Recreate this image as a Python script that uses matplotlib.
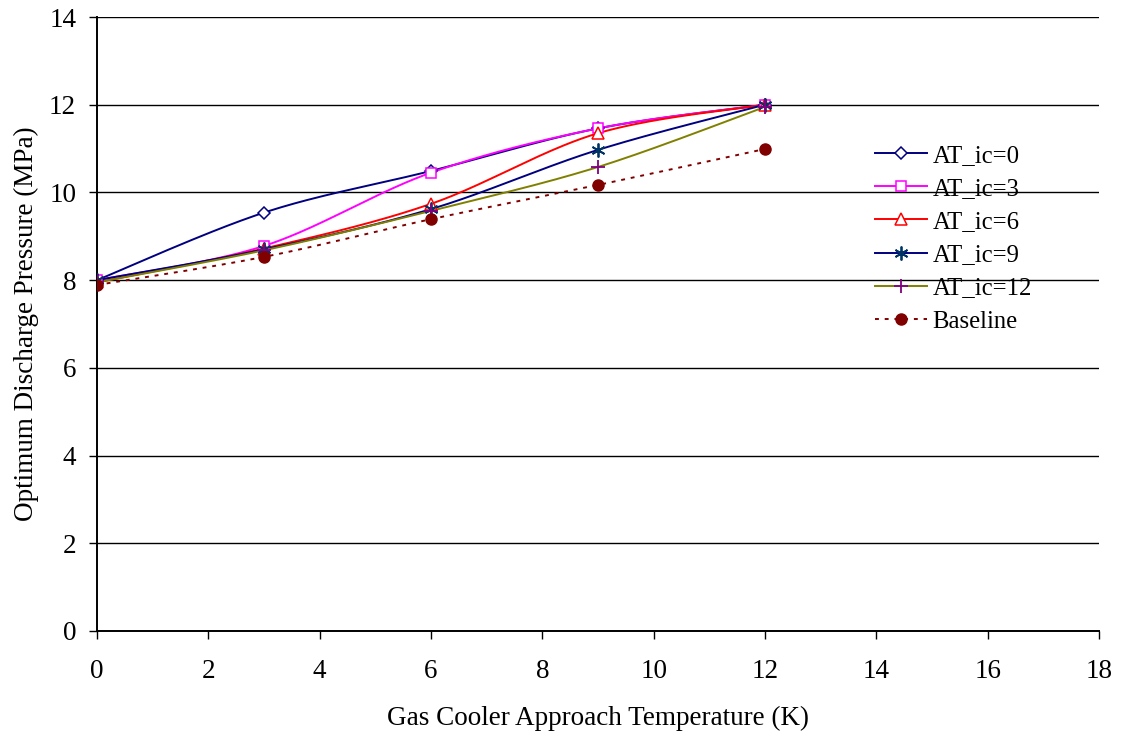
import numpy as np
import matplotlib
matplotlib.use("Agg")
import matplotlib.pyplot as plt

plt.rcParams['font.family'] = ['Liberation Serif', 'DejaVu Serif']

approach_temp = [0, 3, 6, 9, 12]
at_ic_0 = [8.00, 9.54, 10.49, 11.46, 12.00]
at_ic_3 = [8.00, 8.78, 10.45, 11.46, 12.00]
at_ic_6 = [7.95, 8.72, 9.74, 11.35, 12.00]
at_ic_9 = [8.00, 8.70, 9.62, 10.97, 12.00]
at_ic_12 = [7.95, 8.68, 9.58, 10.58, 11.95]
baseline = [7.89, 8.53, 9.39, 10.17, 10.99]

series_names = ["AT_ic=0", "AT_ic=3", "AT_ic=6", "AT_ic=9", "AT_ic=12", "Baseline"]
x_ticks = [0, 2, 4, 6, 8, 10, 12, 14, 16, 18]
y_ticks = [0, 2, 4, 6, 8, 10, 12, 14]

FS = 19.5
LEG_FS = 17.8


def smooth(xs, ys, n=40):
    """Piecewise cubic Bezier through the points (spreadsheet-style smoothing)."""
    p = np.column_stack([xs, ys]).astype(float)
    ext = np.vstack([p[0], p, p[-1]])
    out = []
    t = np.linspace(0, 1, n)[:, None]
    for i in range(len(p) - 1):
        p0, p3 = ext[i + 1], ext[i + 2]
        c1 = p0 + (ext[i + 2] - ext[i]) / 6.0
        c2 = p3 - (ext[i + 3] - ext[i + 1]) / 6.0
        seg = ((1 - t) ** 3) * p0 + 3 * ((1 - t) ** 2) * t * c1 + 3 * (1 - t) * t ** 2 * c2 + t ** 3 * p3
        out.append(seg if i == 0 else seg[1:])
    c = np.vstack(out)
    return c[:, 0], c[:, 1]


fig = plt.figure(figsize=(11.23, 7.36), dpi=100)
ax = fig.add_axes([0.0864, 0.1427, 0.8922, 0.8342])

styles = [
    dict(data=at_ic_0, color="#000080", ls="-", marker="D", ms=6, mfc="white", mec="#000080", mew=1.1),
    dict(data=at_ic_3, color="#FF00FF", ls="-", marker="s", ms=7.5, mfc="white", mec="#FF00FF", mew=1.1),
    dict(data=at_ic_6, color="#FF0000", ls="-", marker="^", ms=8, mfc="white", mec="#FF0000", mew=1.1),
    dict(data=at_ic_9, color="#000080", ls="-", marker=(6, 2, 0), ms=10, mfc="#003366", mec="#003366", mew=1.3),
    dict(data=at_ic_12, color="#808000", ls="-", marker="+", ms=10, mfc="#800080", mec="#800080", mew=1.3),
    dict(data=baseline, color="#800000", ls=(0, (2, 3)), marker="o", ms=8, mfc="#800000", mec="#800000", mew=1.0),
]

for name, st in zip(series_names, styles):
    sx, sy = smooth(approach_temp, st["data"])
    ax.plot(sx, sy, color=st["color"], ls=st["ls"], lw=1.4, zorder=3)
    ax.plot(approach_temp, st["data"], ls="none", marker=st["marker"], ms=st["ms"],
            mfc=st["mfc"], mec=st["mec"], mew=st["mew"], zorder=4)
    # legend proxy
    ax.plot([], [], color=st["color"], ls=st["ls"], lw=1.4, marker=st["marker"], ms=st["ms"],
            mfc=st["mfc"], mec=st["mec"], mew=st["mew"], label=name)

ax.set_xlim(0, 18)
ax.set_ylim(0, 14)
ax.set_xticks(x_ticks)
ax.set_yticks(y_ticks)
ax.yaxis.grid(True, color="black", lw=1.0)
ax.set_axisbelow(True)
for s in ["top", "right"]:
    ax.spines[s].set_visible(False)
for s in ["left", "bottom"]:
    ax.spines[s].set_linewidth(1.4)
ax.tick_params(direction="out", length=6, width=1, labelsize=FS)
ax.tick_params(axis="x", pad=14)
ax.tick_params(axis="y", pad=9)

ax.set_xlabel("Gas Cooler Approach Temperature (K)", fontsize=FS, labelpad=16)
ax.set_ylabel("Optimum Discharge Pressure (MPa)", fontsize=FS, labelpad=7)

handles, labels = ax.get_legend_handles_labels()
ax.legend(handles, labels, loc="upper left", bbox_to_anchor=(0.7665, 0.8086), frameon=False,
          fontsize=LEG_FS, handlelength=2.1, labelspacing=0.44, handletextpad=0.24,
          borderaxespad=0.0)

fig.savefig("out.png", dpi=100)
